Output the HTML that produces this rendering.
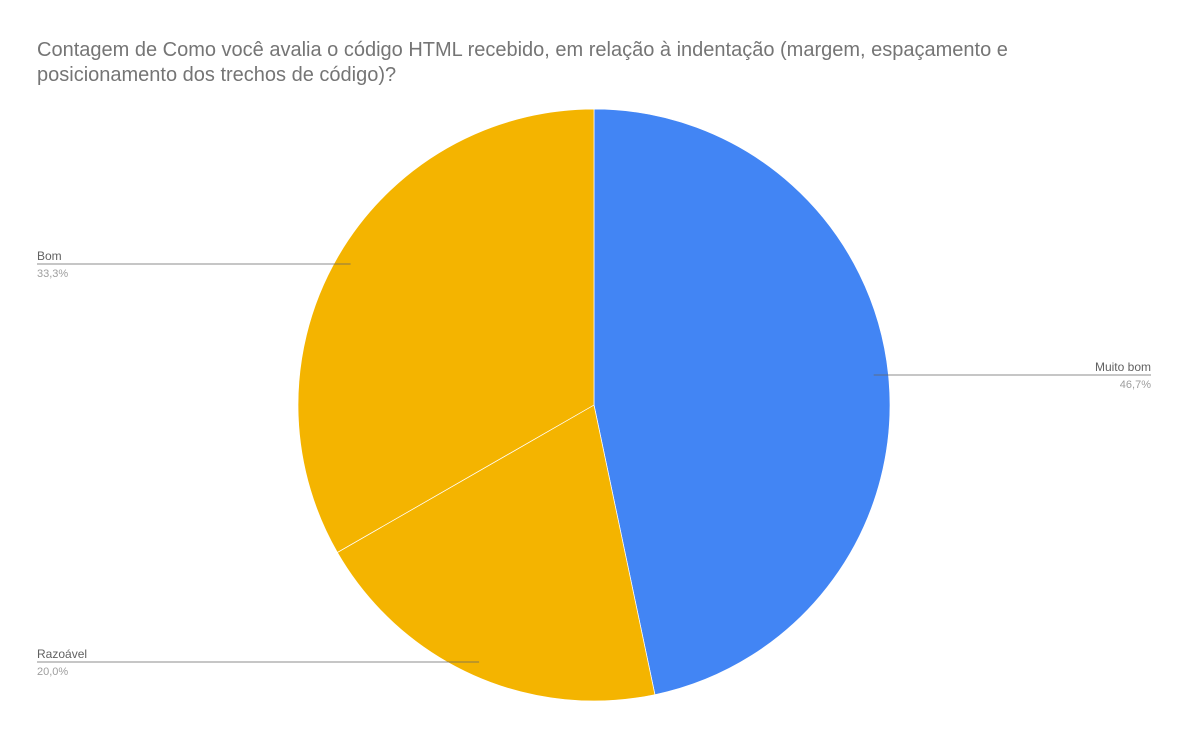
<!DOCTYPE html>
<html><head><meta charset="utf-8"><style>
body{margin:0;background:#fff;font-family:"Liberation Sans",sans-serif}
#c{position:relative;width:1188px;height:738px}
</style></head><body>
<div id="c">
<svg width="1188" height="738">
<text x="37" y="56" font-size="20" fill="#757575">Contagem de Como você avalia o código HTML recebido, em relação à indentação (margem, espaçamento e</text>
<text x="37" y="81" font-size="20" fill="#757575">posicionamento dos trechos de código)?</text>
<g id="slices"></g>
<g id="labels"></g>
</svg>
</div>
<script>
const categories=["Muito bom","Razoável","Bom"];
const values=[46.7,20.0,33.3];
const pctLabels=["46,7%","20,0%","33,3%"];
const colors=["#4285f4","#f4b400","#f4b400"];
const cx=594,cy=405,r=296;
const ns="http://www.w3.org/2000/svg";
const sg=document.getElementById('slices'),lg=document.getElementById('labels');
const total=values.reduce((a,b)=>a+b,0);
let a0=0;
function pt(a,rr){return [cx+rr*Math.sin(a),cy-rr*Math.cos(a)];}
const labelY={"Muito bom":375,"Razoável":662,"Bom":264};
values.forEach((v,i)=>{
 const a1=a0+v/total*2*Math.PI;
 const p0=pt(a0,r),p1=pt(a1,r);
 const large=(a1-a0)>Math.PI?1:0;
 const p=document.createElementNS(ns,'path');
 p.setAttribute('d',`M${cx},${cy}L${p0[0]},${p0[1]}A${r},${r} 0 ${large} 1 ${p1[0]},${p1[1]}Z`);
 p.setAttribute('fill',colors[i]);p.setAttribute('stroke','#fff');p.setAttribute('stroke-width','0.7');
 
 
 sg.appendChild(p);
 const mid=(a0+a1)/2;
 const ap=pt(mid,r*0.95);
 const right=Math.sin(mid)>0;
 const ly=labelY[categories[i]]!==undefined?labelY[categories[i]]:ap[1];
 const ax=ap[0], lineY=ly;
 const x2=right?1151:37;
 const ln=document.createElementNS(ns,'line');
 ln.setAttribute('x1',ax);ln.setAttribute('y1',lineY);ln.setAttribute('x2',x2);ln.setAttribute('y2',lineY);
 ln.setAttribute('stroke','#666');ln.setAttribute('stroke-width','0.8');
 
 
 lg.appendChild(ln);
 const t=document.createElementNS(ns,'text');
 t.setAttribute('x',x2);t.setAttribute('y',lineY-4);t.setAttribute('font-size','12');t.setAttribute('fill','#616161');
 t.setAttribute('text-anchor',right?'end':'start');t.textContent=categories[i];
 
 
 lg.appendChild(t);
 const t2=document.createElementNS(ns,'text');
 t2.setAttribute('x',x2);t2.setAttribute('y',lineY+13);t2.setAttribute('font-size','11');t2.setAttribute('fill','#9e9e9e');
 t2.setAttribute('text-anchor',right?'end':'start');t2.textContent=pctLabels[i];
 
 
 lg.appendChild(t2);
 a0=a1;
});
</script>
</body></html>
